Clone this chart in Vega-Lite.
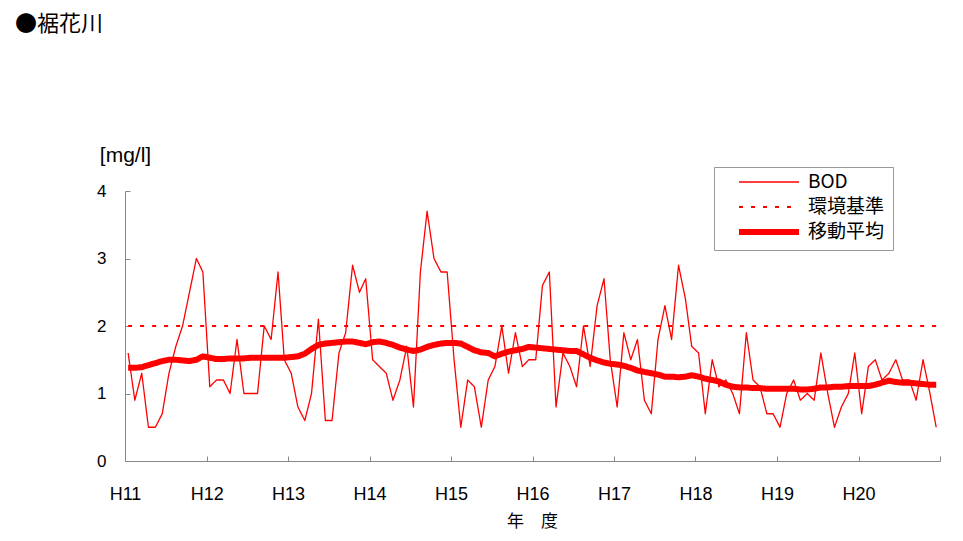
{
"$schema":"https://vega.github.io/schema/vega-lite/v6.json",
"width":815,"height":270,
"autosize":"none",
"padding":{"left":125,"top":191,"right":23,"bottom":80},
"background":"white",
"title":{"text":"●裾花川","anchor":"start","frame":"group","dx":-110,"offset":108,"font":"Noto Sans CJK JP","fontSize":22,"fontWeight":"normal","color":"black"},
"data":{"values":[
{"d":"1999-04-15","s":"BOD","v":1.6},{"d":"1999-05-15","s":"BOD","v":0.9},{"d":"1999-06-15","s":"BOD","v":1.3},{"d":"1999-07-15","s":"BOD","v":0.5},{"d":"1999-08-15","s":"BOD","v":0.5},{"d":"1999-09-15","s":"BOD","v":0.7},{"d":"1999-10-15","s":"BOD","v":1.3},{"d":"1999-11-15","s":"BOD","v":1.7},{"d":"1999-12-15","s":"BOD","v":2.0},{"d":"2000-01-15","s":"BOD","v":2.5},{"d":"2000-02-15","s":"BOD","v":3.0},{"d":"2000-03-15","s":"BOD","v":2.8},
{"d":"2000-04-15","s":"BOD","v":1.1},{"d":"2000-05-15","s":"BOD","v":1.2},{"d":"2000-06-15","s":"BOD","v":1.2},{"d":"2000-07-15","s":"BOD","v":1.0},{"d":"2000-08-15","s":"BOD","v":1.8},{"d":"2000-09-15","s":"BOD","v":1.0},{"d":"2000-10-15","s":"BOD","v":1.0},{"d":"2000-11-15","s":"BOD","v":1.0},{"d":"2000-12-15","s":"BOD","v":2.0},{"d":"2001-01-15","s":"BOD","v":1.8},{"d":"2001-02-15","s":"BOD","v":2.8},{"d":"2001-03-15","s":"BOD","v":1.5},
{"d":"2001-04-15","s":"BOD","v":1.3},{"d":"2001-05-15","s":"BOD","v":0.8},{"d":"2001-06-15","s":"BOD","v":0.6},{"d":"2001-07-15","s":"BOD","v":1.0},{"d":"2001-08-15","s":"BOD","v":2.1},{"d":"2001-09-15","s":"BOD","v":0.6},{"d":"2001-10-15","s":"BOD","v":0.6},{"d":"2001-11-15","s":"BOD","v":1.6},{"d":"2001-12-15","s":"BOD","v":1.9},{"d":"2002-01-15","s":"BOD","v":2.9},{"d":"2002-02-15","s":"BOD","v":2.5},{"d":"2002-03-15","s":"BOD","v":2.7},
{"d":"2002-04-15","s":"BOD","v":1.5},{"d":"2002-05-15","s":"BOD","v":1.4},{"d":"2002-06-15","s":"BOD","v":1.3},{"d":"2002-07-15","s":"BOD","v":0.9},{"d":"2002-08-15","s":"BOD","v":1.2},{"d":"2002-09-15","s":"BOD","v":1.7},{"d":"2002-10-15","s":"BOD","v":0.8},{"d":"2002-11-15","s":"BOD","v":2.8},{"d":"2002-12-15","s":"BOD","v":3.7},{"d":"2003-01-15","s":"BOD","v":3.0},{"d":"2003-02-15","s":"BOD","v":2.8},{"d":"2003-03-15","s":"BOD","v":2.8},
{"d":"2003-04-15","s":"BOD","v":1.5},{"d":"2003-05-15","s":"BOD","v":0.5},{"d":"2003-06-15","s":"BOD","v":1.2},{"d":"2003-07-15","s":"BOD","v":1.1},{"d":"2003-08-15","s":"BOD","v":0.5},{"d":"2003-09-15","s":"BOD","v":1.2},{"d":"2003-10-15","s":"BOD","v":1.4},{"d":"2003-11-15","s":"BOD","v":2.0},{"d":"2003-12-15","s":"BOD","v":1.3},{"d":"2004-01-15","s":"BOD","v":1.9},{"d":"2004-02-15","s":"BOD","v":1.4},{"d":"2004-03-15","s":"BOD","v":1.5},
{"d":"2004-04-15","s":"BOD","v":1.5},{"d":"2004-05-15","s":"BOD","v":2.6},{"d":"2004-06-15","s":"BOD","v":2.8},{"d":"2004-07-15","s":"BOD","v":0.8},{"d":"2004-08-15","s":"BOD","v":1.6},{"d":"2004-09-15","s":"BOD","v":1.4},{"d":"2004-10-15","s":"BOD","v":1.1},{"d":"2004-11-15","s":"BOD","v":2.0},{"d":"2004-12-15","s":"BOD","v":1.4},{"d":"2005-01-15","s":"BOD","v":2.3},{"d":"2005-02-15","s":"BOD","v":2.7},{"d":"2005-03-15","s":"BOD","v":1.5},
{"d":"2005-04-15","s":"BOD","v":0.8},{"d":"2005-05-15","s":"BOD","v":1.9},{"d":"2005-06-15","s":"BOD","v":1.5},{"d":"2005-07-15","s":"BOD","v":1.8},{"d":"2005-08-15","s":"BOD","v":0.9},{"d":"2005-09-15","s":"BOD","v":0.7},{"d":"2005-10-15","s":"BOD","v":1.8},{"d":"2005-11-15","s":"BOD","v":2.3},{"d":"2005-12-15","s":"BOD","v":1.8},{"d":"2006-01-15","s":"BOD","v":2.9},{"d":"2006-02-15","s":"BOD","v":2.4},{"d":"2006-03-15","s":"BOD","v":1.7},
{"d":"2006-04-15","s":"BOD","v":1.6},{"d":"2006-05-15","s":"BOD","v":0.7},{"d":"2006-06-15","s":"BOD","v":1.5},{"d":"2006-07-15","s":"BOD","v":1.1},{"d":"2006-08-15","s":"BOD","v":1.2},{"d":"2006-09-15","s":"BOD","v":1.0},{"d":"2006-10-15","s":"BOD","v":0.7},{"d":"2006-11-15","s":"BOD","v":1.9},{"d":"2006-12-15","s":"BOD","v":1.2},{"d":"2007-01-15","s":"BOD","v":1.1},{"d":"2007-02-15","s":"BOD","v":0.7},{"d":"2007-03-15","s":"BOD","v":0.7},
{"d":"2007-04-15","s":"BOD","v":0.5},{"d":"2007-05-15","s":"BOD","v":1.0},{"d":"2007-06-15","s":"BOD","v":1.2},{"d":"2007-07-15","s":"BOD","v":0.9},{"d":"2007-08-15","s":"BOD","v":1.0},{"d":"2007-09-15","s":"BOD","v":0.9},{"d":"2007-10-15","s":"BOD","v":1.6},{"d":"2007-11-15","s":"BOD","v":1.0},{"d":"2007-12-15","s":"BOD","v":0.5},{"d":"2008-01-15","s":"BOD","v":0.8},{"d":"2008-02-15","s":"BOD","v":1.0},{"d":"2008-03-15","s":"BOD","v":1.6},
{"d":"2008-04-15","s":"BOD","v":0.7},{"d":"2008-05-15","s":"BOD","v":1.4},{"d":"2008-06-15","s":"BOD","v":1.5},{"d":"2008-07-15","s":"BOD","v":1.2},{"d":"2008-08-15","s":"BOD","v":1.3},{"d":"2008-09-15","s":"BOD","v":1.5},{"d":"2008-10-15","s":"BOD","v":1.2},{"d":"2008-11-15","s":"BOD","v":1.2},{"d":"2008-12-15","s":"BOD","v":0.9},{"d":"2009-01-15","s":"BOD","v":1.5},{"d":"2009-02-15","s":"BOD","v":1.0},{"d":"2009-03-15","s":"BOD","v":0.5},
{"d":"1999-04-15","s":"環境基準","v":2},{"d":"2009-03-15","s":"環境基準","v":2},
{"d":"1999-04-15","s":"移動平均","v":1.38},{"d":"1999-05-15","s":"移動平均","v":1.38},{"d":"1999-06-15","s":"移動平均","v":1.39},{"d":"1999-07-15","s":"移動平均","v":1.42},{"d":"1999-08-15","s":"移動平均","v":1.45},{"d":"1999-09-15","s":"移動平均","v":1.48},{"d":"1999-10-15","s":"移動平均","v":1.50},{"d":"1999-11-15","s":"移動平均","v":1.50},{"d":"1999-12-15","s":"移動平均","v":1.49},{"d":"2000-01-15","s":"移動平均","v":1.48},{"d":"2000-02-15","s":"移動平均","v":1.50},{"d":"2000-03-15","s":"移動平均","v":1.55},
{"d":"2000-04-15","s":"移動平均","v":1.53},{"d":"2000-05-15","s":"移動平均","v":1.51},{"d":"2000-06-15","s":"移動平均","v":1.51},{"d":"2000-07-15","s":"移動平均","v":1.52},{"d":"2000-08-15","s":"移動平均","v":1.52},{"d":"2000-09-15","s":"移動平均","v":1.52},{"d":"2000-10-15","s":"移動平均","v":1.53},{"d":"2000-11-15","s":"移動平均","v":1.53},{"d":"2000-12-15","s":"移動平均","v":1.53},{"d":"2001-01-15","s":"移動平均","v":1.53},{"d":"2001-02-15","s":"移動平均","v":1.53},{"d":"2001-03-15","s":"移動平均","v":1.53},
{"d":"2001-04-15","s":"移動平均","v":1.54},{"d":"2001-05-15","s":"移動平均","v":1.55},{"d":"2001-06-15","s":"移動平均","v":1.59},{"d":"2001-07-15","s":"移動平均","v":1.66},{"d":"2001-08-15","s":"移動平均","v":1.72},{"d":"2001-09-15","s":"移動平均","v":1.74},{"d":"2001-10-15","s":"移動平均","v":1.75},{"d":"2001-11-15","s":"移動平均","v":1.76},{"d":"2001-12-15","s":"移動平均","v":1.77},{"d":"2002-01-15","s":"移動平均","v":1.77},{"d":"2002-02-15","s":"移動平均","v":1.75},{"d":"2002-03-15","s":"移動平均","v":1.73},
{"d":"2002-04-15","s":"移動平均","v":1.76},{"d":"2002-05-15","s":"移動平均","v":1.77},{"d":"2002-06-15","s":"移動平均","v":1.75},{"d":"2002-07-15","s":"移動平均","v":1.72},{"d":"2002-08-15","s":"移動平均","v":1.68},{"d":"2002-09-15","s":"移動平均","v":1.65},{"d":"2002-10-15","s":"移動平均","v":1.63},{"d":"2002-11-15","s":"移動平均","v":1.65},{"d":"2002-12-15","s":"移動平均","v":1.69},{"d":"2003-01-15","s":"移動平均","v":1.72},{"d":"2003-02-15","s":"移動平均","v":1.74},{"d":"2003-03-15","s":"移動平均","v":1.75},
{"d":"2003-04-15","s":"移動平均","v":1.75},{"d":"2003-05-15","s":"移動平均","v":1.74},{"d":"2003-06-15","s":"移動平均","v":1.69},{"d":"2003-07-15","s":"移動平均","v":1.64},{"d":"2003-08-15","s":"移動平均","v":1.61},{"d":"2003-09-15","s":"移動平均","v":1.60},{"d":"2003-10-15","s":"移動平均","v":1.55},{"d":"2003-11-15","s":"移動平均","v":1.59},{"d":"2003-12-15","s":"移動平均","v":1.62},{"d":"2004-01-15","s":"移動平均","v":1.64},{"d":"2004-02-15","s":"移動平均","v":1.66},{"d":"2004-03-15","s":"移動平均","v":1.69},
{"d":"2004-04-15","s":"移動平均","v":1.68},{"d":"2004-05-15","s":"移動平均","v":1.67},{"d":"2004-06-15","s":"移動平均","v":1.66},{"d":"2004-07-15","s":"移動平均","v":1.65},{"d":"2004-08-15","s":"移動平均","v":1.64},{"d":"2004-09-15","s":"移動平均","v":1.63},{"d":"2004-10-15","s":"移動平均","v":1.63},{"d":"2004-11-15","s":"移動平均","v":1.58},{"d":"2004-12-15","s":"移動平均","v":1.53},{"d":"2005-01-15","s":"移動平均","v":1.49},{"d":"2005-02-15","s":"移動平均","v":1.46},{"d":"2005-03-15","s":"移動平均","v":1.44},
{"d":"2005-04-15","s":"移動平均","v":1.43},{"d":"2005-05-15","s":"移動平均","v":1.41},{"d":"2005-06-15","s":"移動平均","v":1.38},{"d":"2005-07-15","s":"移動平均","v":1.34},{"d":"2005-08-15","s":"移動平均","v":1.32},{"d":"2005-09-15","s":"移動平均","v":1.30},{"d":"2005-10-15","s":"移動平均","v":1.28},{"d":"2005-11-15","s":"移動平均","v":1.25},{"d":"2005-12-15","s":"移動平均","v":1.25},{"d":"2006-01-15","s":"移動平均","v":1.24},{"d":"2006-02-15","s":"移動平均","v":1.25},{"d":"2006-03-15","s":"移動平均","v":1.27},
{"d":"2006-04-15","s":"移動平均","v":1.25},{"d":"2006-05-15","s":"移動平均","v":1.22},{"d":"2006-06-15","s":"移動平均","v":1.20},{"d":"2006-07-15","s":"移動平均","v":1.18},{"d":"2006-08-15","s":"移動平均","v":1.13},{"d":"2006-09-15","s":"移動平均","v":1.10},{"d":"2006-10-15","s":"移動平均","v":1.09},{"d":"2006-11-15","s":"移動平均","v":1.09},{"d":"2006-12-15","s":"移動平均","v":1.08},{"d":"2007-01-15","s":"移動平均","v":1.08},{"d":"2007-02-15","s":"移動平均","v":1.07},{"d":"2007-03-15","s":"移動平均","v":1.07},
{"d":"2007-04-15","s":"移動平均","v":1.07},{"d":"2007-05-15","s":"移動平均","v":1.07},{"d":"2007-06-15","s":"移動平均","v":1.07},{"d":"2007-07-15","s":"移動平均","v":1.06},{"d":"2007-08-15","s":"移動平均","v":1.06},{"d":"2007-09-15","s":"移動平均","v":1.07},{"d":"2007-10-15","s":"移動平均","v":1.09},{"d":"2007-11-15","s":"移動平均","v":1.09},{"d":"2007-12-15","s":"移動平均","v":1.10},{"d":"2008-01-15","s":"移動平均","v":1.10},{"d":"2008-02-15","s":"移動平均","v":1.11},{"d":"2008-03-15","s":"移動平均","v":1.11},
{"d":"2008-04-15","s":"移動平均","v":1.11},{"d":"2008-05-15","s":"移動平均","v":1.11},{"d":"2008-06-15","s":"移動平均","v":1.13},{"d":"2008-07-15","s":"移動平均","v":1.16},{"d":"2008-08-15","s":"移動平均","v":1.19},{"d":"2008-09-15","s":"移動平均","v":1.17},{"d":"2008-10-15","s":"移動平均","v":1.16},{"d":"2008-11-15","s":"移動平均","v":1.16},{"d":"2008-12-15","s":"移動平均","v":1.15},{"d":"2009-01-15","s":"移動平均","v":1.14},{"d":"2009-02-15","s":"移動平均","v":1.13},{"d":"2009-03-15","s":"移動平均","v":1.13}
]},
"mark":{"type":"line","strokeJoin":"round","strokeCap":"butt"},
"encoding":{
"x":{"field":"d","type":"temporal",
 "scale":{"type":"utc","domain":[{"year":1999,"month":4,"date":1,"utc":true},{"year":2009,"month":4,"date":1,"utc":true}]},
 "axis":{"title":"年　度","values":[{"year":1999,"month":4,"date":1,"utc":true},{"year":2000,"month":4,"date":1,"utc":true},{"year":2001,"month":4,"date":1,"utc":true},{"year":2002,"month":4,"date":1,"utc":true},{"year":2003,"month":4,"date":1,"utc":true},{"year":2004,"month":4,"date":1,"utc":true},{"year":2005,"month":4,"date":1,"utc":true},{"year":2006,"month":4,"date":1,"utc":true},{"year":2007,"month":4,"date":1,"utc":true},{"year":2008,"month":4,"date":1,"utc":true},{"year":2009,"month":4,"date":1,"utc":true}],
 "labelExpr":"utcyear(datum.value) < 2009 ? 'H' + (utcyear(datum.value) - 1988) : ''",
 "tickSize":-5,"tickColor":"#888888","domainColor":"#888888","grid":false,
 "labelPadding":29,"labelFont":"Liberation Sans Narrow, Liberation Sans","labelFontSize":18,"labelColor":"black",
 "labelOverlap":false,"labelBound":false,"labelFlush":false,
 "titleFont":"Noto Sans CJK JP","titleFontSize":17,"titleFontWeight":"normal","titleColor":"black",
 "titleX":407,"titleY":60,"titleBaseline":"middle","titleAlign":"center"}},
"y":{"field":"v","type":"quantitative","scale":{"domain":[0,4]},
 "axis":{"values":[0,1,2,3,4],"title":"[mg/l]","titleAngle":0,"titleX":0,"titleY":-36,"titleAlign":"center","titleBaseline":"middle",
 "titleFont":"Liberation Sans","titleFontSize":21,"titleFontWeight":"normal","titleColor":"black",
 "tickSize":-5,"tickColor":"#888888","domainColor":"#888888","grid":false,
 "labelPadding":24,"labelAlign":"right","labelFont":"Liberation Sans","labelFontSize":17,"labelColor":"black"}},
"color":{"field":"s","type":"nominal","scale":{"domain":["BOD","環境基準","移動平均"],"range":["#ff0000","#ff0000","#ff0000"]},"legend":{"title":null}},
"strokeDash":{"field":"s","type":"nominal","scale":{"domain":["BOD","環境基準","移動平均"],"range":[[1,0],[4,8],[1,0]]},"legend":{"title":null}},
"strokeWidth":{"field":"s","type":"nominal","scale":{"type":"ordinal","domain":["BOD","環境基準","移動平均"],"range":[1.3,2.2,6]},"legend":{"title":null}}
},
"config":{
 "view":{"stroke":null},
 "legend":{"orient":"none","legendX":589,"legendY":-24,"strokeColor":"#999999","fillColor":"white","padding":8,
  "symbolType":"stroke","symbolSize":3600,"clipHeight":14,"rowPadding":6,"symbolOffset":14,"labelOffset":6,
  "labelFont":"Noto Sans CJK JP","labelFontSize":19,"labelColor":"black","symbolStrokeColor":"#ff0000"}
}
}
